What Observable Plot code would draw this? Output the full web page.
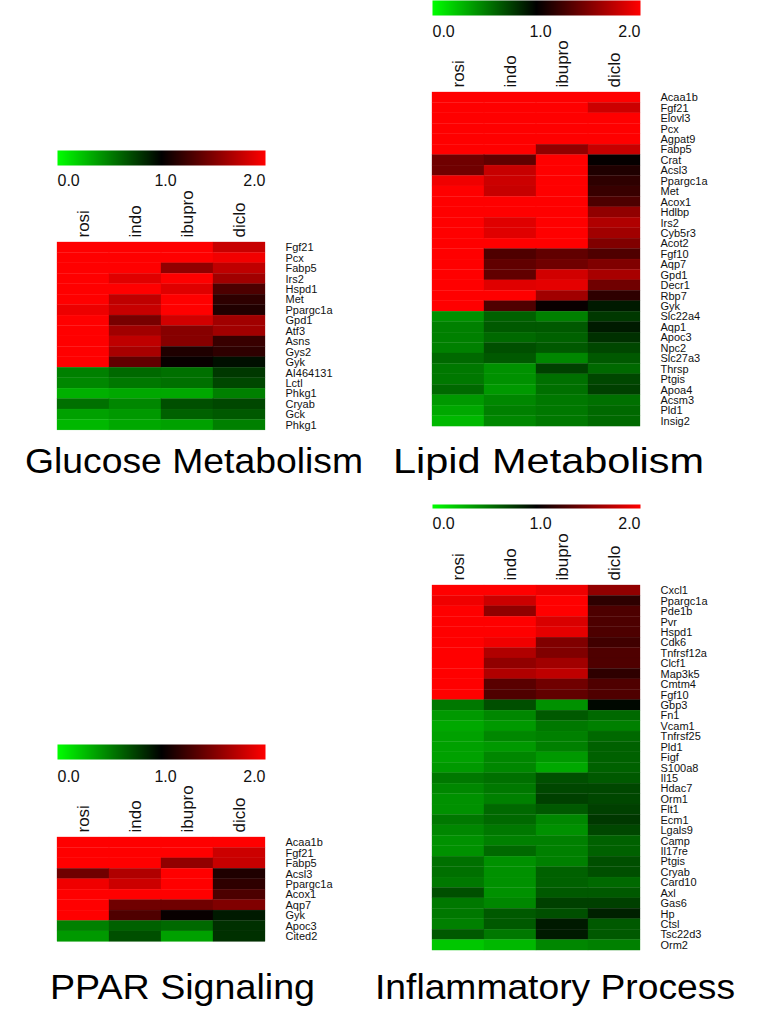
<!DOCTYPE html>
<html>
<head>
<meta charset="utf-8">
<script src="https://cdn.jsdelivr.net/npm/d3@7"></script>
<script src="https://cdn.jsdelivr.net/npm/@observablehq/plot@0.6"></script>
<style>
  html, body { margin: 0; padding: 0; background: #fff; }
  #root { position: relative; width: 759px; height: 1032px; background: #fff; overflow: hidden;
          font-family: "Liberation Sans", Arial, sans-serif; color: #000; }
  .abs { position: absolute; }
  .abs svg { display: block; overflow: visible; }
  .title { position: absolute; font-size: 35px; line-height: 35px; white-space: nowrap;
           transform-origin: 0 0; }
</style>
</head>
<body>
<div id="root"></div>
<script>
// ---------------- data ----------------
const drugs = ["rosi", "indo", "ibupro", "diclo"];
const colorbarTicks = [0, 1, 2];
const colorStops = ["#00ff00", "#000000", "#ff0000"];

const glucoseGenes = ["Fgf21","Pcx","Fabp5","Irs2","Hspd1","Met","Ppargc1a","Gpd1","Atf3","Asns","Gys2","Gyk",
  "AI464131","Lctl","Phkg1","Cryab","Gck","Phkg1"];
const glucoseValues = [
  [2, 2, 2, 1.78],
  [2, 2, 2, 1.95],
  [2, 2, 1.57, 1.75],
  [2, 1.88, 2, 1.63],
  [2, 2, 1.88, 1.30],
  [2, 1.75, 2, 1.18],
  [1.93, 1.78, 2, 1.13],
  [2, 1.47, 1.82, 1.63],
  [2, 1.63, 1.53, 1.63],
  [2, 1.75, 1.53, 1.22],
  [2, 1.66, 1.12, 1.18],
  [2, 1.38, 1.03, 0.94],
  [0.50, 0.59, 0.56, 0.78],
  [0.47, 0.53, 0.56, 0.72],
  [0.31, 0.34, 0.34, 0.50],
  [0.56, 0.47, 0.69, 0.72],
  [0.37, 0.40, 0.62, 0.65],
  [0.28, 0.34, 0.37, 0.50]
];

const lipidGenes = ["Acaa1b","Fgf21","Elovl3","Pcx","Agpat9","Fabp5","Crat","Acsl3","Ppargc1a","Met","Acox1","Hdlbp",
  "Irs2","Cyb5r3","Acot2","Fgf10","Aqp7","Gpd1","Decr1","Rbp7","Gyk","Slc22a4","Aqp1","Apoc3","Npc2","Slc27a3",
  "Thrsp","Ptgis","Apoa4","Acsm3","Pld1","Insig2"];
const lipidValues = [
  [2, 2, 2, 2],
  [2, 2, 2, 1.80],
  [2, 2, 2, 2],
  [2, 2, 2, 2],
  [2, 2, 2, 2],
  [2, 2, 1.57, 1.78],
  [1.44, 1.38, 2, 1.02],
  [1.44, 1.78, 2, 1.12],
  [1.94, 1.80, 2, 1.18],
  [2, 1.78, 2, 1.22],
  [2, 2, 2, 1.30],
  [2, 2, 2, 1.57],
  [2, 1.88, 2, 1.69],
  [2, 1.88, 2, 1.63],
  [2, 2, 2, 1.50],
  [2, 1.31, 1.38, 1.31],
  [2, 1.38, 1.44, 1.50],
  [2, 1.38, 1.82, 1.66],
  [2, 1.88, 1.90, 1.44],
  [2, 2, 1.63, 1.18],
  [2, 1.31, 1.03, 0.90],
  [0.43, 0.62, 0.50, 0.78],
  [0.50, 0.65, 0.65, 0.90],
  [0.50, 0.59, 0.62, 0.81],
  [0.50, 0.69, 0.65, 0.72],
  [0.59, 0.65, 0.47, 0.65],
  [0.53, 0.43, 0.75, 0.59],
  [0.53, 0.43, 0.56, 0.72],
  [0.59, 0.40, 0.56, 0.75],
  [0.40, 0.47, 0.53, 0.56],
  [0.34, 0.50, 0.53, 0.59],
  [0.28, 0.47, 0.53, 0.59]
];

const pparGenes = ["Acaa1b","Fgf21","Fabp5","Acsl3","Ppargc1a","Acox1","Aqp7","Gyk","Apoc3","Cited2"];
const pparValues = [
  [2, 2, 2, 2],
  [2, 2, 2, 1.80],
  [2, 2, 1.57, 1.78],
  [1.44, 1.69, 2, 1.12],
  [1.94, 1.80, 2, 1.18],
  [2, 2, 2, 1.30],
  [2, 1.44, 1.44, 1.50],
  [2, 1.31, 1.03, 0.90],
  [0.50, 0.62, 0.59, 0.81],
  [0.40, 0.69, 0.37, 0.81]
];

const inflamGenes = ["Cxcl1","Ppargc1a","Pde1b","Pvr","Hspd1","Cdk6","Tnfrsf12a","Clcf1","Map3k5","Cmtm4","Fgf10",
  "Gbp3","Fn1","Vcam1","Tnfrsf25","Pld1","Figf","S100a8","Il15","Hdac7","Orm1","Flt1","Ecm1","Lgals9","Camp",
  "Il17re","Ptgis","Cryab","Card10","Axl","Gas6","Hp","Ctsl","Tsc22d3","Orm2"];
const inflamValues = [
  [2, 2, 1.94, 1.57],
  [1.94, 1.80, 2, 1.18],
  [2, 1.57, 2, 1.30],
  [2, 2, 1.85, 1.30],
  [2, 2, 1.90, 1.30],
  [2, 1.94, 1.50, 1.25],
  [2, 1.69, 1.50, 1.31],
  [2, 1.57, 1.63, 1.31],
  [2, 1.69, 1.75, 1.18],
  [2, 1.35, 1.44, 1.31],
  [2, 1.31, 1.38, 1.31],
  [0.53, 0.69, 0.43, 0.97],
  [0.40, 0.47, 0.65, 0.59],
  [0.34, 0.40, 0.53, 0.50],
  [0.37, 0.47, 0.50, 0.59],
  [0.37, 0.40, 0.50, 0.62],
  [0.37, 0.47, 0.40, 0.62],
  [0.40, 0.47, 0.34, 0.62],
  [0.53, 0.56, 0.69, 0.65],
  [0.47, 0.53, 0.72, 0.72],
  [0.43, 0.50, 0.75, 0.72],
  [0.43, 0.59, 0.65, 0.75],
  [0.53, 0.59, 0.47, 0.78],
  [0.47, 0.53, 0.43, 0.72],
  [0.43, 0.50, 0.50, 0.62],
  [0.43, 0.59, 0.50, 0.62],
  [0.56, 0.43, 0.50, 0.69],
  [0.56, 0.43, 0.62, 0.69],
  [0.53, 0.43, 0.62, 0.59],
  [0.69, 0.43, 0.65, 0.65],
  [0.53, 0.47, 0.75, 0.75],
  [0.53, 0.65, 0.69, 0.87],
  [0.50, 0.65, 0.90, 0.65],
  [0.65, 0.53, 0.90, 0.65],
  [0.22, 0.28, 0.47, 0.50]
];

// ---------------- layout ----------------
const panels = [
  {genes: glucoseGenes, values: glucoseValues, left: 57, top: 242, rowH: 10.44,
   cbTop: 150, cbH: 15, gap: 9, title: "Glucose Metabolism", titleX: 25, titleBase: 473, titleW: 338},
  {genes: lipidGenes, values: lipidValues, left: 432, top: 92, rowH: 10.44,
   cbTop: 0, cbH: 15, gap: 10, title: "Lipid Metabolism", titleX: 393, titleBase: 473, titleW: 311},
  {genes: pparGenes, values: pparValues, left: 57, top: 837, rowH: 10.44,
   cbTop: 744, cbH: 15, gap: 11, title: "PPAR Signaling", titleX: 50, titleBase: 999, titleW: 265},
  {genes: inflamGenes, values: inflamValues, left: 432, top: 585, rowH: 10.43,
   cbTop: 504, cbH: 4, gap: 9, title: "Inflammatory Process", titleX: 375, titleBase: 999, titleW: 360}
];

const W = 208;
const FONT = "'Liberation Sans', Arial, sans-serif";
const colorScale = {
  type: "linear", domain: [0, 2], clamp: true,
  interpolate: d3.piecewise(d3.interpolateRgb, colorStops)
};

function heatmap(genes, values, rowH) {
  const data = values.flatMap((row, i) => row.map((v, j) => ({row: i, drug: drugs[j], value: v})));
  const mt = 70, mr = 90;
  return Plot.plot({
    width: W + mr, height: mt + genes.length * rowH,
    marginTop: mt, marginRight: mr, marginLeft: 0, marginBottom: 0,
    style: {fontFamily: FONT, background: "transparent", color: "#111", overflow: "visible"},
    x: {type: "band", domain: drugs, padding: 0, round: false},
    y: {type: "band", domain: d3.range(genes.length), padding: 0, round: false},
    color: colorScale,
    marks: [
      Plot.cell(data, {x: "drug", y: "row", fill: "value", inset: 0, stroke: "value", strokeWidth: 0.3}),
      Plot.axisX({anchor: "top", tickRotate: -90, tickSize: 0, tickPadding: 5, fontSize: 17, label: null}),
      Plot.axisY({anchor: "right", tickSize: 0, tickPadding: 20, fontSize: 11, label: null, tickFormat: i => genes[i]})
    ]
  });
}

function colorbar(h, gap) {
  const anchors = ["start", "middle", "end"];
  const shifts = [0, 4, 0];
  return Plot.plot({
    width: W, height: h + 30, marginTop: 0, marginLeft: 0, marginRight: 0, marginBottom: 30,
    style: {fontFamily: FONT, background: "transparent", color: "#111", overflow: "visible"},
    x: {domain: [0, 2], axis: null},
    y: {domain: [0, 1], axis: null},
    color: colorScale,
    marks: [
      Plot.raster({x1: 0, x2: 2, y1: 0, y2: 1, fill: (x, y) => x}),
      ...colorbarTicks.map((t, k) => Plot.text([t], {
        x: d => d, text: d => d.toFixed(1), frameAnchor: "bottom", lineAnchor: "top",
        dy: gap, dx: shifts[k], textAnchor: anchors[k], fontSize: 16
      }))
    ]
  });
}

const root = document.getElementById("root");
for (const p of panels) {
  const hm = document.createElement("div");
  hm.className = "abs";
  hm.style.left = p.left + "px";
  hm.style.top = (p.top - 70) + "px";
  hm.appendChild(heatmap(p.genes, p.values, p.rowH));
  root.appendChild(hm);

  const cb = document.createElement("div");
  cb.className = "abs";
  cb.style.left = p.left + "px";
  cb.style.top = p.cbTop + "px";
  cb.appendChild(colorbar(p.cbH, p.gap));
  root.appendChild(cb);

  const t = document.createElement("div");
  t.className = "title";
  t.style.left = p.titleX + "px";
  t.style.top = (p.titleBase - 29.6) + "px";
  t.textContent = p.title;
  root.appendChild(t);
  const natural = t.getBoundingClientRect().width;
  t.style.transform = `scaleX(${p.titleW / natural})`;
}
</script>
</body>
</html>
